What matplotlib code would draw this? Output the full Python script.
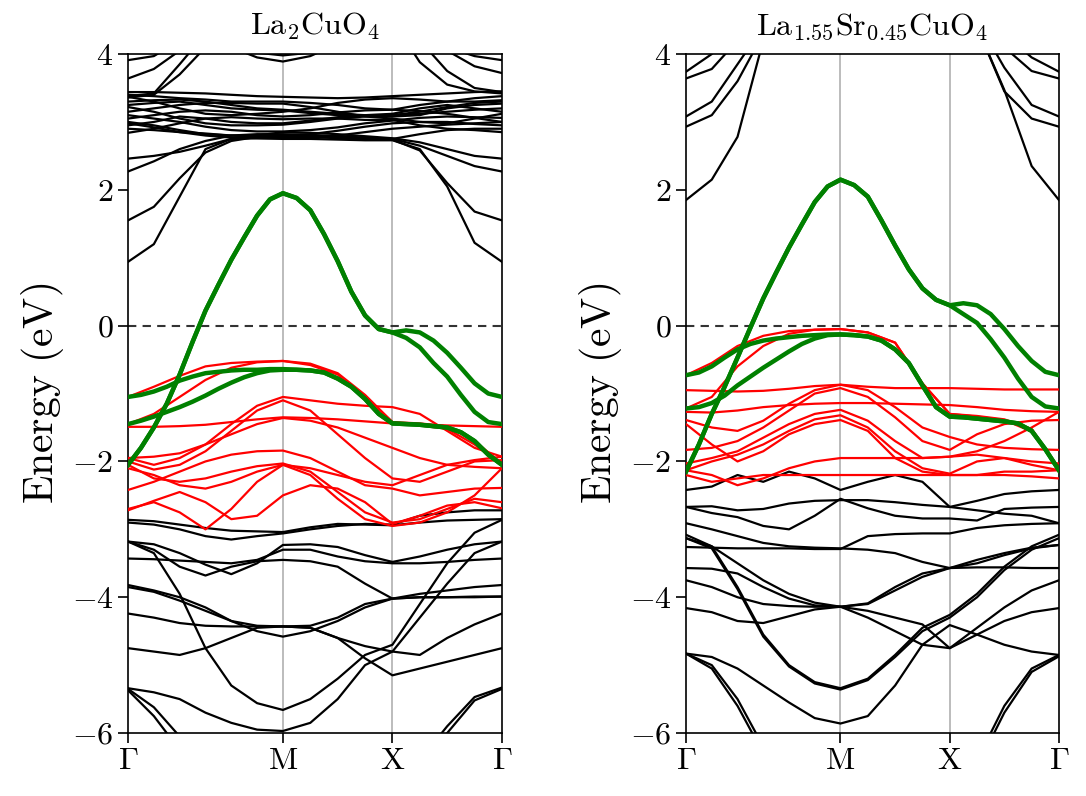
import numpy as np
import matplotlib
matplotlib.use('Agg')
import matplotlib.pyplot as plt

plt.rcParams['mathtext.fontset'] = 'cm'
plt.rcParams['font.family'] = 'serif'
plt.rcParams['font.serif'] = ['cmr10']
plt.rcParams['axes.formatter.use_mathtext'] = True

# high-symmetry path G-M-X-G
k_nodes = [0.0, 0.4142, 0.7071, 1.0]
k_div = [6, 4, 4]          # steps per segment for black / red bands
k_div_fine = [12, 8, 8]    # steps per segment for the green bands
k_labels = [r'$\Gamma$', r'$\mathrm{M}$', r'$\mathrm{X}$', r'$\Gamma$']

# ---------------- La2CuO4 ----------------
left_black = [
    # upper manifold
    [0.94, 1.20, 1.90, 2.60, 2.75, 2.76, 2.75, 2.75, 2.74, 2.73, 2.73, 2.60, 2.05, 1.22, 0.94],
    [1.55, 1.75, 2.17, 2.55, 2.72, 2.78, 2.80, 2.79, 2.77, 2.75, 2.74, 2.58, 2.10, 1.68, 1.55],
    [2.27, 2.42, 2.60, 2.72, 2.80, 2.82, 2.82, 2.81, 2.79, 2.77, 2.75, 2.65, 2.50, 2.35, 2.27],
    [2.46, 2.50, 2.56, 2.65, 2.75, 2.80, 2.85, 2.84, 2.82, 2.79, 2.76, 2.70, 2.60, 2.50, 2.46],
    [3.44, 3.44, 3.43, 3.42, 3.40, 3.38, 3.37, 3.36, 3.35, 3.36, 3.38, 3.40, 3.42, 3.44, 3.45],
    [3.37, 3.30, 3.20, 3.12, 3.10, 3.12, 3.15, 3.20, 3.28, 3.33, 3.35, 3.33, 3.30, 3.30, 3.32],
    [3.30, 3.32, 3.33, 3.30, 3.25, 3.20, 3.18, 3.15, 3.12, 3.10, 3.10, 3.15, 3.22, 3.28, 3.30],
    [3.22, 3.15, 3.05, 2.98, 2.95, 2.95, 2.96, 3.00, 3.05, 3.08, 3.10, 3.12, 3.15, 3.18, 3.20],
    [3.15, 3.20, 3.25, 3.28, 3.28, 3.27, 3.27, 3.22, 3.15, 3.08, 3.05, 3.00, 2.98, 3.05, 3.12],
    [3.10, 3.05, 3.00, 2.93, 2.88, 2.86, 2.86, 2.88, 2.92, 2.98, 3.02, 3.06, 3.08, 3.07, 3.06],
    [3.05, 3.10, 3.15, 3.17, 3.15, 3.10, 3.08, 3.10, 3.14, 3.17, 3.18, 3.16, 3.12, 3.06, 3.00],
    [3.00, 2.95, 2.88, 2.82, 2.80, 2.80, 2.80, 2.82, 2.87, 2.93, 2.98, 3.00, 3.00, 2.97, 2.95],
    [2.95, 3.00, 3.08, 3.05, 3.00, 2.98, 2.98, 3.02, 3.07, 3.10, 3.12, 3.20, 3.25, 3.20, 3.15],
    [2.90, 2.88, 2.85, 2.83, 2.80, 2.78, 2.78, 2.78, 2.76, 2.75, 2.75, 2.82, 2.88, 2.90, 2.90],
    [2.84, 2.90, 2.98, 3.05, 3.07, 3.05, 3.04, 3.05, 3.05, 3.03, 3.03, 2.95, 2.90, 2.88, 2.85],
    [3.40, 3.38, 3.35, 3.33, 3.30, 3.30, 3.30, 3.28, 3.25, 3.20, 3.18, 3.25, 3.30, 3.35, 3.38],
    [3.25, 3.28, 3.30, 3.25, 3.20, 3.18, 3.17, 3.13, 3.10, 3.09, 3.08, 3.10, 3.20, 3.25, 3.27],
    [2.98, 2.92, 2.85, 2.80, 2.77, 2.76, 2.76, 2.77, 2.80, 2.85, 2.90, 2.93, 2.96, 2.98, 3.00],
    [3.91, 3.97, 4.20, 4.50, 4.60, 4.60, 4.60, 4.60, 4.60, 4.50, 4.40, 4.30, 4.10, 3.97, 3.91],
    [3.64, 3.78, 4.05, 4.30, 4.50, 4.50, 4.50, 4.50, 4.50, 4.50, 4.50, 4.30, 4.05, 3.82, 3.72],
    [3.38, 3.42, 3.85, 4.30, 4.60, 4.70, 4.70, 4.70, 4.70, 4.60, 4.50, 3.88, 3.55, 3.45, 3.42],
    [3.36, 3.40, 3.70, 4.10, 4.50, 4.60, 4.60, 4.60, 4.60, 4.60, 4.60, 4.20, 3.75, 3.50, 3.44],
    [4.80, 4.70, 4.60, 4.40, 4.10, 3.95, 3.89, 3.97, 4.15, 4.40, 4.60, 4.70, 4.80, 4.80, 4.80],
    [4.90, 4.80, 4.70, 4.50, 4.20, 4.02, 3.98, 4.02, 4.20, 4.50, 4.70, 4.80, 4.90, 4.90, 4.90],
    # lower manifold
    [-2.86, -2.88, -2.93, -2.98, -3.02, -3.03, -3.04, -2.97, -2.92, -2.93, -2.94, -2.90, -2.87, -2.86, -2.85],
    [-2.90, -2.93, -3.00, -3.10, -3.15, -3.10, -3.06, -3.00, -2.95, -2.92, -2.93, -2.80, -2.75, -2.72, -2.72],
    [-3.18, -3.22, -3.35, -3.52, -3.66, -3.50, -3.23, -3.22, -3.26, -3.38, -3.48, -3.40, -3.30, -3.22, -3.18],
    [-3.18, -3.30, -3.55, -3.68, -3.55, -3.47, -3.45, -3.47, -3.55, -3.80, -4.02, -4.00, -4.00, -4.00, -3.99],
    [-3.43, -3.44, -3.46, -3.48, -3.50, -3.45, -3.30, -3.30, -3.40, -3.47, -3.50, -3.50, -3.48, -3.45, -3.43],
    [-3.82, -3.90, -4.00, -4.15, -4.35, -4.50, -4.58, -4.50, -4.35, -4.15, -4.02, -3.95, -3.90, -3.85, -3.82],
    [-3.85, -3.92, -4.05, -4.20, -4.35, -4.42, -4.43, -4.45, -4.60, -4.90, -5.15, -5.05, -4.95, -4.85, -4.75],
    [-4.24, -4.30, -4.38, -4.42, -4.43, -4.43, -4.43, -4.42, -4.30, -4.10, -4.02, -4.00, -4.00, -3.99, -3.99],
    [-4.75, -4.80, -4.85, -4.75, -4.60, -4.45, -4.43, -4.45, -4.60, -4.72, -4.80, -4.85, -4.60, -4.40, -4.24],
    [-3.18, -3.35, -3.95, -4.75, -5.30, -5.56, -5.66, -5.50, -5.20, -4.85, -4.70, -4.10, -3.50, -3.05, -2.86],
    [-5.34, -5.40, -5.50, -5.70, -5.85, -5.95, -5.97, -5.85, -5.50, -5.00, -4.80, -4.30, -3.80, -3.35, -3.18],
    [-5.35, -5.62, -6.05, -6.50, -6.80, -7.00, -7.00, -7.00, -6.90, -6.80, -6.70, -6.40, -5.90, -5.47, -5.33],
    [-5.37, -5.75, -6.25, -6.60, -6.90, -7.10, -7.10, -7.10, -7.00, -6.90, -6.80, -6.50, -6.00, -5.52, -5.35],
]

left_red = [
    [-1.05, -0.90, -0.74, -0.60, -0.55, -0.53, -0.52, -0.58, -0.72, -1.05, -1.42, -1.44, -1.48, -1.70, -2.03],
    [-1.45, -1.30, -1.05, -0.80, -0.62, -0.54, -0.52, -0.56, -0.70, -1.02, -1.42, -1.47, -1.52, -1.75, -2.05],
    [-1.49, -1.49, -1.48, -1.46, -1.42, -1.38, -1.35, -1.36, -1.38, -1.41, -1.44, -1.46, -1.47, -1.48, -1.49],
    [-1.95, -2.05, -1.95, -1.75, -1.45, -1.18, -1.05, -1.10, -1.15, -1.18, -1.20, -1.30, -1.55, -1.80, -1.93],
    [-2.00, -2.12, -2.05, -1.85, -1.55, -1.25, -1.10, -1.25, -1.60, -1.95, -2.25, -2.30, -2.15, -2.00, -1.98],
    [-1.95, -1.93, -1.88, -1.75, -1.60, -1.45, -1.36, -1.40, -1.50, -1.65, -1.80, -1.95, -2.05, -2.08, -2.10],
    [-2.42, -2.30, -2.15, -2.00, -1.90, -1.85, -1.84, -1.95, -2.15, -2.35, -2.40, -2.50, -2.45, -2.40, -2.39],
    [-2.05, -2.25, -2.30, -2.25, -2.15, -2.07, -2.03, -2.15, -2.45, -2.75, -2.90, -2.85, -2.70, -2.55, -2.60],
    [-2.70, -2.60, -2.75, -3.00, -2.70, -2.30, -2.05, -2.20, -2.55, -2.85, -2.95, -2.90, -2.75, -2.50, -2.10],
    [-2.72, -2.58, -2.45, -2.60, -2.85, -2.80, -2.50, -2.35, -2.40, -2.60, -2.92, -2.80, -2.65, -2.60, -2.69],
    [-2.10, -2.20, -2.35, -2.40, -2.30, -2.15, -2.05, -2.10, -2.20, -2.30, -2.35, -2.20, -2.05, -1.98, -1.93],
]

left_green = [
    [-2.05, -1.80, -1.50, -1.15, -0.72, -0.24, 0.22, 0.60, 0.97, 1.30, 1.62, 1.86, 1.95,
     1.88, 1.70, 1.35, 0.95, 0.50, 0.15, -0.05, -0.10,
     -0.07, -0.10, -0.22, -0.40, -0.62, -0.85, -1.00, -1.05],
    [-2.05, -1.80, -1.50, -1.15, -0.72, -0.24, 0.22, 0.60, 0.97, 1.30, 1.62, 1.86, 1.95,
     1.88, 1.70, 1.35, 0.95, 0.50, 0.15, -0.05, -0.10,
     -0.18, -0.32, -0.55, -0.75, -1.02, -1.27, -1.42, -1.45],
    [-1.05, -1.02, -0.97, -0.90, -0.81, -0.75, -0.70, -0.68, -0.66, -0.65, -0.65, -0.64, -0.64,
     -0.65, -0.66, -0.69, -0.78, -0.90, -1.08, -1.30, -1.44,
     -1.45, -1.46, -1.48, -1.50, -1.57, -1.70, -1.90, -2.05],
    [-1.45, -1.40, -1.34, -1.27, -1.20, -1.12, -1.03, -0.93, -0.84, -0.76, -0.70, -0.66, -0.65,
     -0.65, -0.66, -0.69, -0.78, -0.90, -1.08, -1.30, -1.44,
     -1.45, -1.46, -1.48, -1.50, -1.57, -1.70, -1.90, -2.05],
]

# ---------------- La1.55Sr0.45CuO4 ----------------
right_black = [
    # upper manifold
    [1.85, 2.15, 2.78, 4.20, 5.00, 5.50, 5.80, 5.80, 5.80, 5.60, 5.00, 4.40, 3.47, 2.35, 1.85],
    [2.93, 3.10, 3.60, 4.30, 5.00, 5.50, 5.80, 5.80, 5.80, 5.60, 5.00, 4.40, 3.45, 3.05, 2.93],
    [3.08, 3.30, 3.85, 4.40, 5.00, 5.50, 5.80, 5.80, 5.80, 5.60, 5.00, 4.50, 3.80, 3.25, 3.08],
    [3.64, 3.78, 4.20, 4.60, 5.00, 5.50, 5.80, 5.80, 5.80, 5.60, 5.00, 4.60, 4.10, 3.75, 3.64],
    [3.74, 4.00, 4.40, 4.70, 5.00, 5.50, 5.80, 5.80, 5.80, 5.60, 5.00, 4.70, 4.30, 3.95, 3.74],
    # lower manifold
    [-2.42, -2.37, -2.20, -2.30, -2.15, -2.25, -2.42, -2.30, -2.20, -2.30, -2.67, -2.58, -2.48, -2.44, -2.42],
    [-2.67, -2.66, -2.72, -2.70, -2.62, -2.58, -2.57, -2.57, -2.60, -2.64, -2.67, -2.72, -2.77, -2.80, -2.91],
    [-2.67, -2.76, -2.82, -2.95, -3.00, -2.80, -2.55, -2.69, -2.80, -2.84, -2.84, -2.87, -2.70, -2.68, -2.67],
    [-2.91, -3.00, -3.10, -3.20, -3.25, -3.27, -3.28, -3.30, -3.35, -3.48, -3.57, -3.50, -3.38, -3.28, -3.23],
    [-3.26, -3.27, -3.28, -3.28, -3.28, -3.29, -3.29, -3.10, -3.07, -3.06, -3.06, -2.98, -2.94, -2.92, -2.91],
    [-3.08, -3.25, -3.50, -3.75, -3.95, -4.08, -4.14, -4.10, -3.90, -3.70, -3.57, -3.56, -3.56, -3.57, -3.57],
    [-3.57, -3.58, -3.65, -3.85, -4.02, -4.12, -4.14, -4.09, -3.85, -3.65, -3.57, -3.45, -3.35, -3.27, -3.23],
    [-3.75, -3.85, -4.00, -4.10, -4.13, -4.14, -4.14, -4.30, -4.50, -4.70, -4.75, -4.45, -4.15, -3.90, -3.75],
    [-4.16, -4.22, -4.35, -4.38, -4.28, -4.18, -4.14, -4.20, -4.30, -4.40, -4.75, -4.55, -4.35, -4.22, -4.16],
    [-3.13, -3.25, -3.85, -4.55, -5.00, -5.25, -5.34, -5.20, -4.85, -4.45, -4.26, -3.95, -3.55, -3.25, -3.08],
    [-3.13, -3.28, -3.88, -4.58, -5.02, -5.27, -5.36, -5.22, -4.88, -4.50, -4.30, -4.00, -3.60, -3.30, -3.13],
    [-4.83, -4.88, -5.05, -5.30, -5.55, -5.78, -5.86, -5.75, -5.30, -4.70, -4.41, -4.55, -4.70, -4.80, -4.85],
    [-4.83, -5.00, -5.50, -6.20, -6.90, -7.40, -7.60, -7.50, -7.30, -7.10, -7.00, -6.40, -5.60, -5.05, -4.85],
    [-4.83, -5.05, -5.60, -6.30, -7.00, -7.50, -7.70, -7.60, -7.40, -7.20, -7.10, -6.50, -5.70, -5.10, -4.87],
]

right_red = [
    [-0.73, -0.55, -0.30, -0.15, -0.08, -0.06, -0.05, -0.10, -0.25, -0.85, -1.30, -1.33, -1.38, -1.52, -2.10],
    [-1.22, -1.05, -0.60, -0.30, -0.12, -0.06, -0.05, -0.10, -0.25, -0.85, -1.30, -1.34, -1.39, -1.56, -2.12],
    [-0.95, -0.96, -0.97, -0.96, -0.93, -0.89, -0.87, -0.90, -0.92, -0.92, -0.92, -0.93, -0.94, -0.94, -0.94],
    [-1.27, -1.28, -1.25, -1.20, -1.17, -1.15, -1.14, -1.14, -1.15, -1.16, -1.17, -1.20, -1.24, -1.26, -1.27],
    [-1.39, -1.50, -1.55, -1.40, -1.15, -0.95, -0.87, -0.95, -1.20, -1.50, -1.64, -1.75, -1.80, -1.82, -1.83],
    [-1.83, -1.80, -1.70, -1.50, -1.25, -1.00, -0.92, -1.05, -1.35, -1.70, -1.83, -1.60, -1.45, -1.40, -1.39],
    [-2.03, -1.95, -1.85, -1.65, -1.45, -1.30, -1.24, -1.40, -1.70, -1.95, -1.93, -1.85, -1.70, -1.50, -1.27],
    [-2.13, -2.00, -1.90, -1.75, -1.55, -1.38, -1.32, -1.50, -1.85, -2.10, -2.18, -2.00, -1.95, -2.00, -2.03],
    [-1.45, -1.75, -2.00, -1.85, -1.60, -1.45, -1.39, -1.55, -1.95, -2.15, -2.20, -2.20, -2.15, -2.15, -2.13],
    [-2.20, -2.30, -2.25, -2.20, -2.20, -2.20, -2.20, -2.20, -2.20, -2.20, -2.20, -2.20, -2.20, -2.22, -2.25],
    [-2.13, -2.20, -2.35, -2.25, -2.10, -2.00, -1.95, -1.95, -1.95, -1.95, -1.93, -1.90, -1.95, -2.05, -2.13],
]

right_green = [
    [-2.15, -1.75, -1.30, -0.90, -0.47, -0.03, 0.40, 0.78, 1.15, 1.49, 1.82, 2.05, 2.15,
     2.07, 1.90, 1.55, 1.18, 0.83, 0.55, 0.38, 0.30,
     0.33, 0.30, 0.17, -0.05, -0.30, -0.52, -0.68, -0.73],
    [-2.15, -1.75, -1.30, -0.90, -0.47, -0.03, 0.40, 0.78, 1.15, 1.49, 1.82, 2.05, 2.15,
     2.07, 1.90, 1.55, 1.18, 0.83, 0.55, 0.38, 0.30,
     0.17, 0.04, -0.20, -0.47, -0.78, -1.05, -1.19, -1.22],
    [-0.73, -0.69, -0.60, -0.47, -0.35, -0.27, -0.22, -0.19, -0.17, -0.15, -0.14, -0.13, -0.13,
     -0.14, -0.16, -0.22, -0.35, -0.55, -0.88, -1.20, -1.34,
     -1.35, -1.37, -1.39, -1.41, -1.44, -1.55, -1.82, -2.13],
    [-1.22, -1.20, -1.14, -1.03, -0.88, -0.75, -0.62, -0.50, -0.38, -0.27, -0.19, -0.14, -0.13,
     -0.14, -0.16, -0.22, -0.35, -0.55, -0.88, -1.20, -1.34,
     -1.35, -1.37, -1.39, -1.41, -1.44, -1.55, -1.82, -2.13],
]

titles = [r'$\mathrm{La_2CuO_4}$', r'$\mathrm{La_{1.55}Sr_{0.45}CuO_4}$']


def kgrid(div):
    parts = [np.linspace(k_nodes[i], k_nodes[i + 1], div[i] + 1)[:-1] for i in range(len(div))]
    return np.concatenate(parts + [[k_nodes[-1]]])


k = kgrid(k_div)
kf = kgrid(k_div_fine)

fig = plt.figure(figsize=(10.86, 7.96), dpi=100)
ax1 = fig.add_axes([0.1179, 0.0791, 0.3443, 0.8530])
ax2 = fig.add_axes([0.6317, 0.0791, 0.3434, 0.8530])

panels = [
    (ax1, left_black, left_red, left_green, titles[0]),
    (ax2, right_black, right_red, right_green, titles[1]),
]
for ax, black, red, green, title in panels:
    for x in k_nodes[1:-1]:
        ax.axvline(x, color='#b0b0b0', lw=1.2, zorder=0)
    ax.axhline(0, color='#333333', lw=1.5, ls='--', dashes=(4, 3), zorder=1)
    for band in black:
        ax.plot(k, band, color='black', lw=1.6, zorder=2, solid_joinstyle='round')
    for band in red:
        ax.plot(k, band, color='red', lw=1.6, zorder=3, solid_joinstyle='round')
    for band in green:
        ax.plot(kf, band, color='green', lw=3.2, zorder=4, solid_joinstyle='round')
    ax.set_xlim(0, 1)
    ax.set_ylim(-6, 4)
    ax.set_xticks(k_nodes)
    ax.set_xticklabels(k_labels)
    ax.set_yticks([-6, -4, -2, 0, 2, 4])
    ax.tick_params(labelsize=23, length=7, width=1.2)
    ax.set_ylabel(r'$\mathrm{Energy\ (eV)}$', fontsize=30)
    ax.set_title(title, fontsize=23, pad=14)
    for s in ax.spines.values():
        s.set_linewidth(1.2)

fig.savefig('out.png', dpi=100)
